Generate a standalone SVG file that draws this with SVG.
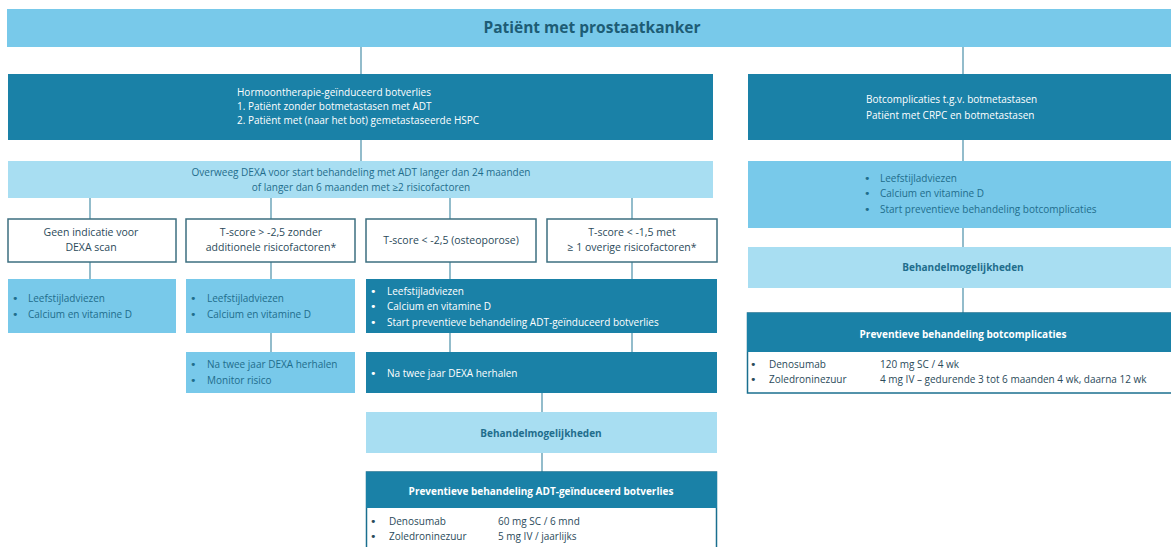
<svg xmlns="http://www.w3.org/2000/svg" width="1171" height="547" viewBox="0 0 1171 547">
<style>
text{font-family:"Open Sans","Liberation Sans",sans-serif;}
.mid{fill:#78c9ea;}
.dark{fill:#1a81a7;}
.light{fill:#a8def2;}
.wbox{fill:#ffffff;stroke:#3d6f80;stroke-width:1.5;}
.tw{fill:#ffffff;font-size:10px;}
.td{fill:#1f6d8c;font-size:10px;}
.tc{text-anchor:middle;}
.b{font-weight:bold;}
text.bu{font-family:"DejaVu Sans",sans-serif;font-size:11px;}
.conn line{stroke:#4a8fa8;stroke-width:1.2;}
.pbox{fill:#ffffff;stroke:#1a6f8f;stroke-width:1.5;}
.tk{fill:#2b4a5a;font-size:10px;}
</style>
<rect width="1171" height="547" fill="#ffffff"/>
<g class="conn">
<line x1="361" y1="47" x2="361" y2="74"/>
<line x1="963" y1="47" x2="963" y2="74"/>
<line x1="361" y1="140" x2="361" y2="161"/>
<line x1="90" y1="198" x2="90" y2="219"/>
<line x1="271" y1="198" x2="271" y2="219"/>
<line x1="450" y1="198" x2="450" y2="219"/>
<line x1="632" y1="198" x2="632" y2="219"/>
<line x1="90" y1="262" x2="90" y2="279"/>
<line x1="271" y1="262" x2="271" y2="279"/>
<line x1="450" y1="262" x2="450" y2="279"/>
<line x1="632" y1="262" x2="632" y2="279"/>
<line x1="271" y1="333" x2="271" y2="352"/>
<line x1="450" y1="333" x2="450" y2="352"/>
<line x1="632" y1="333" x2="632" y2="352"/>
<line x1="542" y1="393" x2="542" y2="412"/>
<line x1="542" y1="453" x2="542" y2="472"/>
<line x1="963" y1="140" x2="963" y2="161"/>
<line x1="963" y1="228" x2="963" y2="247"/>
<line x1="963" y1="288" x2="963" y2="313"/>
</g>
<g id="top">
<rect class="mid" x="7" y="9" width="1164" height="38"/>
<text x="592" y="33" class="tc b" font-size="15.5" fill="#1d5c75">Patiënt met prostaatkanker</text>
</g>
<g id="hormoon">
<rect class="dark" x="8" y="74" width="705" height="66"/>
<text class="tw" x="237" y="96">Hormoontherapie-geïnduceerd botverlies</text>
<text class="tw" x="237" y="110">1. Patiënt zonder botmetastasen met ADT</text>
<text class="tw" x="237" y="124">2. Patiënt met (naar het bot) gemetastaseerde HSPC</text>
</g>
<g id="botcomp">
<rect class="dark" x="748" y="74" width="423" height="66"/>
<text class="tw" x="866" y="103">Botcomplicaties t.g.v. botmetastasen</text>
<text class="tw" x="866" y="119">Patiënt met CRPC en botmetastasen</text>
</g>
<g id="dexa">
<rect class="light" x="8" y="161" width="705" height="37"/>
<text class="td tc" x="361" y="176" font-size="10.5">Overweeg DEXA voor start behandeling met ADT langer dan 24 maanden</text>
<text class="td tc" x="361" y="191" font-size="10.5">of langer dan 6 maanden met ≥2 risicofactoren</text>
</g>
<g id="geen">
<rect class="wbox" x="8" y="219" width="168" height="43"/>
<text class="tc" x="91" y="236" font-size="10.5" fill="#2b4a5a">Geen indicatie voor</text>
<text class="tc" x="91" y="251" font-size="10.5" fill="#2b4a5a">DEXA scan</text>
</g>
<g id="tscore1">
<rect class="wbox" x="186" y="219" width="169" height="43"/>
<text class="tc" x="271" y="236" font-size="10.5" fill="#2b4a5a">T-score &gt; -2,5 zonder</text>
<text class="tc" x="271" y="251" font-size="10.5" fill="#2b4a5a">additionele risicofactoren*</text>
</g>
<g id="tscore2">
<rect class="wbox" x="366" y="219" width="170" height="43"/>
<text class="tc" x="451" y="244" font-size="10.5" fill="#2b4a5a">T-score &lt; -2,5 (osteoporose)</text>
</g>
<g id="tscore3">
<rect class="wbox" x="547" y="219" width="170" height="43"/>
<text class="tc" x="632" y="236" font-size="10.5" fill="#2b4a5a">T-score &lt; -1,5 met</text>
<text class="tc" x="632" y="251" font-size="10.5" fill="#2b4a5a">≥ 1 overige risicofactoren*</text>
</g>
<g id="advies1">
<rect class="mid" x="8" y="279" width="168" height="54"/>
<text class="td bu" x="12" y="302">•</text><text class="td" x="28" y="302">Leefstijladviezen</text>
<text class="td bu" x="12" y="318">•</text><text class="td" x="28" y="318">Calcium en vitamine D</text>
</g>
<g id="advies2">
<rect class="mid" x="186" y="279" width="169" height="54"/>
<text class="td bu" x="190" y="302">•</text><text class="td" x="207" y="302">Leefstijladviezen</text>
<text class="td bu" x="190" y="318">•</text><text class="td" x="207" y="318">Calcium en vitamine D</text>
</g>
<g id="advies3">
<rect class="dark" x="366" y="279" width="351" height="54"/>
<text class="tw bu" x="370" y="295">•</text><text class="tw" x="387" y="295">Leefstijladviezen</text>
<text class="tw bu" x="370" y="310">•</text><text class="tw" x="387" y="310">Calcium en vitamine D</text>
<text class="tw bu" x="370" y="326">•</text><text class="tw" x="387" y="326">Start preventieve behandeling ADT-geïnduceerd botverlies</text>
</g>
<g id="herhalen1">
<rect class="mid" x="186" y="352" width="169" height="41"/>
<text class="td bu" x="190" y="368">•</text><text class="td" x="207" y="368">Na twee jaar DEXA herhalen</text>
<text class="td bu" x="190" y="384">•</text><text class="td" x="207" y="384">Monitor risico</text>
</g>
<g id="herhalen2">
<rect class="dark" x="366" y="352" width="351" height="41"/>
<text class="tw bu" x="370" y="377">•</text><text class="tw" x="387" y="377">Na twee jaar DEXA herhalen</text>
</g>
<g id="behandel1">
<rect class="light" x="366" y="412" width="351" height="41"/>
<text class="td tc b" x="541" y="437">Behandelmogelijkheden</text>
</g>
<g id="prev1">
<rect class="pbox" x="366.5" y="472" width="350" height="80"/>
<rect class="dark" x="366" y="472" width="351" height="36"/>
<text class="tw tc b" x="541" y="495" font-size="10.5">Preventieve behandeling ADT-geïnduceerd botverlies</text>
<text class="tk bu" x="370" y="525">•</text><text class="tk" x="389" y="525">Denosumab</text><text class="tk" x="498" y="525">60 mg SC / 6 mnd</text>
<text class="tk bu" x="370" y="540">•</text><text class="tk" x="389" y="540">Zoledroninezuur</text><text class="tk" x="498" y="540">5 mg IV / jaarlijks</text>
</g>
<g id="advies4">
<rect class="mid" x="748" y="161" width="423" height="67"/>
<text class="td bu" x="864" y="182">•</text><text class="td" x="880" y="182">Leefstijladviezen</text>
<text class="td bu" x="864" y="197">•</text><text class="td" x="880" y="197">Calcium en vitamine D</text>
<text class="td bu" x="864" y="213">•</text><text class="td" x="880" y="213">Start preventieve behandeling botcomplicaties</text>
</g>
<g id="behandel2">
<rect class="light" x="748" y="247" width="423" height="41"/>
<text class="td tc b" x="963" y="271">Behandelmogelijkheden</text>
</g>
<g id="prev2">
<rect class="pbox" x="747.5" y="313" width="430" height="80"/>
<rect class="dark" x="747" y="313" width="424" height="39"/>
<text class="tw tc b" x="963" y="338" font-size="10.5">Preventieve behandeling botcomplicaties</text>
<text class="tk bu" x="750" y="368">•</text><text class="tk" x="769" y="368">Denosumab</text><text class="tk" x="880" y="368">120 mg SC / 4 wk</text>
<text class="tk bu" x="750" y="383">•</text><text class="tk" x="769" y="383">Zoledroninezuur</text><text class="tk" x="880" y="383">4 mg IV – gedurende 3 tot 6 maanden 4 wk, daarna 12 wk</text>
</g>
</svg>
